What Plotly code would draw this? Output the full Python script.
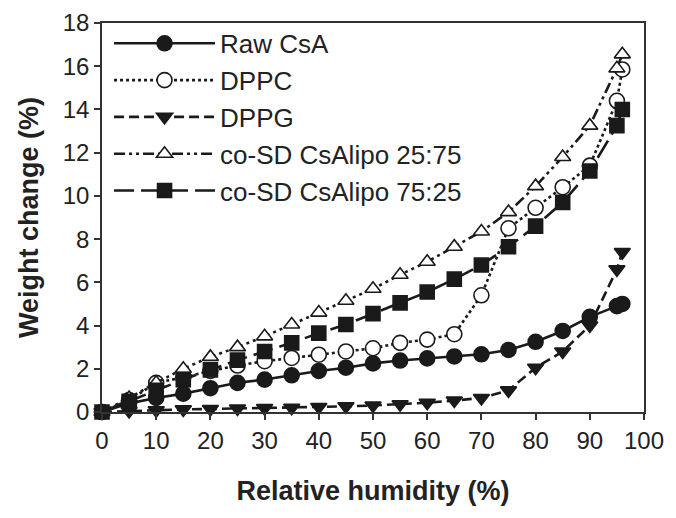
import plotly.graph_objects as go

rh = [0, 5, 10, 15, 20, 25, 30, 35, 40, 45, 50, 55, 60, 65, 70, 75, 80, 85, 90, 95, 96]
raw_csa = [0, 0.4, 0.65, 0.85, 1.1, 1.35, 1.5, 1.7, 1.9, 2.05, 2.25, 2.38, 2.48, 2.57, 2.67, 2.87, 3.25, 3.75, 4.4, 4.9, 5.0]
dppc = [0, 0.55, 1.35, 1.6, 1.9, 2.15, 2.35, 2.5, 2.65, 2.8, 2.95, 3.2, 3.35, 3.6, 5.4, 8.5, 9.45, 10.4, 11.4, 14.4, 15.85]
dppg = [0, 0.05, 0.08, 0.12, 0.14, 0.16, 0.18, 0.2, 0.23, 0.26, 0.3, 0.36, 0.43, 0.53, 0.65, 1.0, 2.05, 2.8, 4.0, 6.6, 7.4]
co_25_75 = [0, 0.65, 1.35, 2.0, 2.55, 3.0, 3.5, 4.05, 4.6, 5.15, 5.7, 6.35, 6.95, 7.65, 8.35, 9.25, 10.45, 11.8, 13.25, 15.9, 16.55]
co_75_25 = [0, 0.5, 1.0, 1.5, 1.95, 2.4, 2.8, 3.2, 3.65, 4.05, 4.55, 5.05, 5.55, 6.15, 6.8, 7.65, 8.6, 9.7, 11.15, 13.25, 14.0]

names = ["Raw CsA", "DPPC", "DPPG", "co-SD CsAlipo 25:75", "co-SD CsAlipo 75:25"]
series = [raw_csa, dppc, dppg, co_25_75, co_75_25]

INK = "#1a1a1a"
styles = [
    dict(dash="solid", symbol="circle", fill=INK, size=15),
    dict(dash="dot", symbol="circle", fill="white", size=15),
    dict(dash="10px,5px", symbol="triangle-down", fill=INK, size=14),
    dict(dash="11px,4px,3px,4px,3px,4px", symbol="triangle-up", fill="white", size=14),
    dict(dash="20px,7px", symbol="square", fill=INK, size=14),
]

fig = go.Figure()
for name, ys, st in zip(names, series, styles):
    fig.add_trace(go.Scatter(
        x=rh, y=ys, name=name, mode="lines+markers",
        line=dict(color=INK, width=2.6, dash=st["dash"]),
        marker=dict(symbol=st["symbol"], size=st["size"], color=st["fill"],
                    line=dict(color=INK, width=1.6)),
        cliponaxis=False,
    ))

axis_common = dict(
    showline=True, linecolor="#333", linewidth=1.5, mirror=True,
    ticks="outside", ticklen=6, tickwidth=1.5, tickcolor="#333",
    showgrid=False, zeroline=False, automargin=False,
    tickfont=dict(family="Liberation Sans, Arial", size=24, color="#222"),
)

# the page body adds an 8px offset, so the figure is 668x510 inside the 676x518 window
fig.update_layout(
    width=668, height=510,
    margin=dict(l=93.5, r=32, t=12.7, b=106.3),
    paper_bgcolor="white", plot_bgcolor="white",
    font=dict(family="Liberation Sans, Arial", color="#222"),
    xaxis=dict(range=[0, 100], dtick=10,
               title=dict(text="<b>Relative humidity (%)</b>", standoff=29,
                          font=dict(size=27, family="Liberation Sans, Arial", color="#222")),
               **axis_common),
    yaxis=dict(range=[0, 18], dtick=2,
               title=dict(text="<b>Weight change (%)</b>", standoff=16,
                          font=dict(size=27, family="Liberation Sans, Arial", color="#222")),
               **axis_common),
    legend=dict(x=0.013, y=1.008, xanchor="left", yanchor="top",
                bgcolor="rgba(0,0,0,0)", borderwidth=0,
                font=dict(size=26, family="Liberation Sans, Arial", color="#222"),
                itemwidth=101, tracegroupgap=0),
    showlegend=True,
)

fig.write_html("out.html")
